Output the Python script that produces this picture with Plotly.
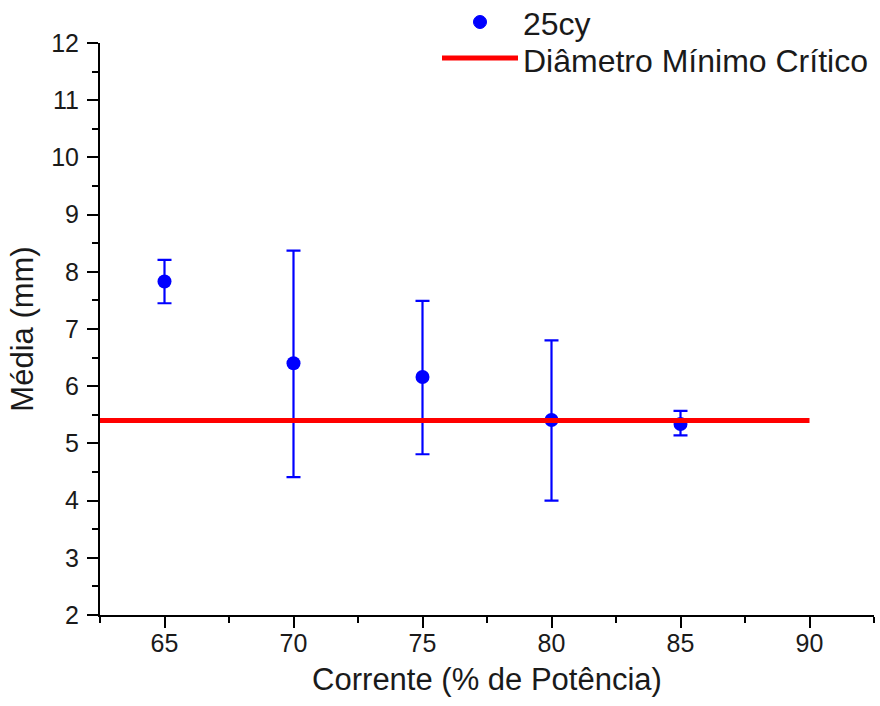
import plotly.graph_objects as go

corrente = [65, 70, 75, 80, 85]
media = [7.83, 6.40, 6.16, 5.41, 5.34]
err_plus = [0.38, 1.97, 1.33, 1.39, 0.23]
err_minus = [0.38, 1.99, 1.35, 1.41, 0.20]

critico_x = [62.5, 90]
critico_y = [5.4, 5.4]

x_ticks = [65, 70, 75, 80, 85, 90]
y_ticks = [2, 3, 4, 5, 6, 7, 8, 9, 10, 11, 12]

serie_nome = "25cy"
linha_nome = "Diâmetro Mínimo Crítico"

FONT = "Liberation Sans, Arial, sans-serif"
TXT = "#1a1a1a"

W, H = 880, 706
L, R, T, B = 100, 874, 43, 615   # plot area in pixels

fig = go.Figure()
fig.add_trace(go.Scatter(
    x=corrente, y=media, mode="markers", name=serie_nome, showlegend=False,
    marker=dict(color="#0000FF", size=14),
    error_y=dict(type="data", symmetric=False, array=err_plus, arrayminus=err_minus,
                 color="#0000FF", thickness=2.2, width=7),
))
fig.add_trace(go.Scatter(
    x=critico_x, y=critico_y, mode="lines", name=linha_nome, showlegend=False,
    line=dict(color="#FF0000", width=5),
))

axis_common = dict(
    showgrid=False, zeroline=False, showline=True, linecolor="black", linewidth=2,
    ticks="outside", ticklen=11, tickwidth=2, tickcolor="black",
    tickfont=dict(family=FONT, size=25, color=TXT),
    mirror=False, automargin=False,
)
fig.update_xaxes(range=[62.5, 92.5], tickvals=x_ticks, ticklabelstandoff=-6,
                 minor=dict(dtick=2.5, tick0=62.5, ticks="outside", ticklen=6, tickwidth=2, tickcolor="black"),
                 title=dict(text="Corrente (% de Potência)", font=dict(family=FONT, size=31, color=TXT), standoff=12),
                 **axis_common)
fig.update_yaxes(range=[2, 12], tickvals=y_ticks, ticklabelstandoff=3,
                 minor=dict(dtick=0.5, tick0=2, ticks="outside", ticklen=6, tickwidth=2, tickcolor="black"),
                 title=dict(text="Média (mm)", font=dict(family=FONT, size=31, color=TXT), standoff=8),
                 **axis_common)

def px(x):
    return (x - L) / (R - L)
def py(y):
    return (B - y) / (B - T)

# Manual legend
fig.add_shape(type="circle", xref="paper", yref="paper",
              x0=px(473.5), x1=px(486.5), y0=py(28.5), y1=py(15.5),
              fillcolor="#0000FF", line=dict(color="#0000FF", width=1))
fig.add_shape(type="line", xref="paper", yref="paper",
              x0=px(442), x1=px(518), y0=py(58), y1=py(58),
              line=dict(color="#FF0000", width=5))
fig.add_annotation(xref="paper", yref="paper", x=px(522), y=py(24), xanchor="left", yanchor="middle",
                   text=serie_nome, showarrow=False, borderpad=0,
                   font=dict(family=FONT, size=32, color=TXT))
fig.add_annotation(xref="paper", yref="paper", x=px(522), y=py(61), xanchor="left", yanchor="middle",
                   text=linha_nome, showarrow=False, borderpad=0,
                   font=dict(family=FONT, size=32, color=TXT))

fig.update_layout(
    width=W, height=H,
    margin=dict(l=L, r=W - R, t=T, b=H - B),
    plot_bgcolor="white", paper_bgcolor="white",
    showlegend=False,
)

fig.write_html("out.html", config={"displayModeBar": False},
               post_script="document.body.style.margin='0px';")
